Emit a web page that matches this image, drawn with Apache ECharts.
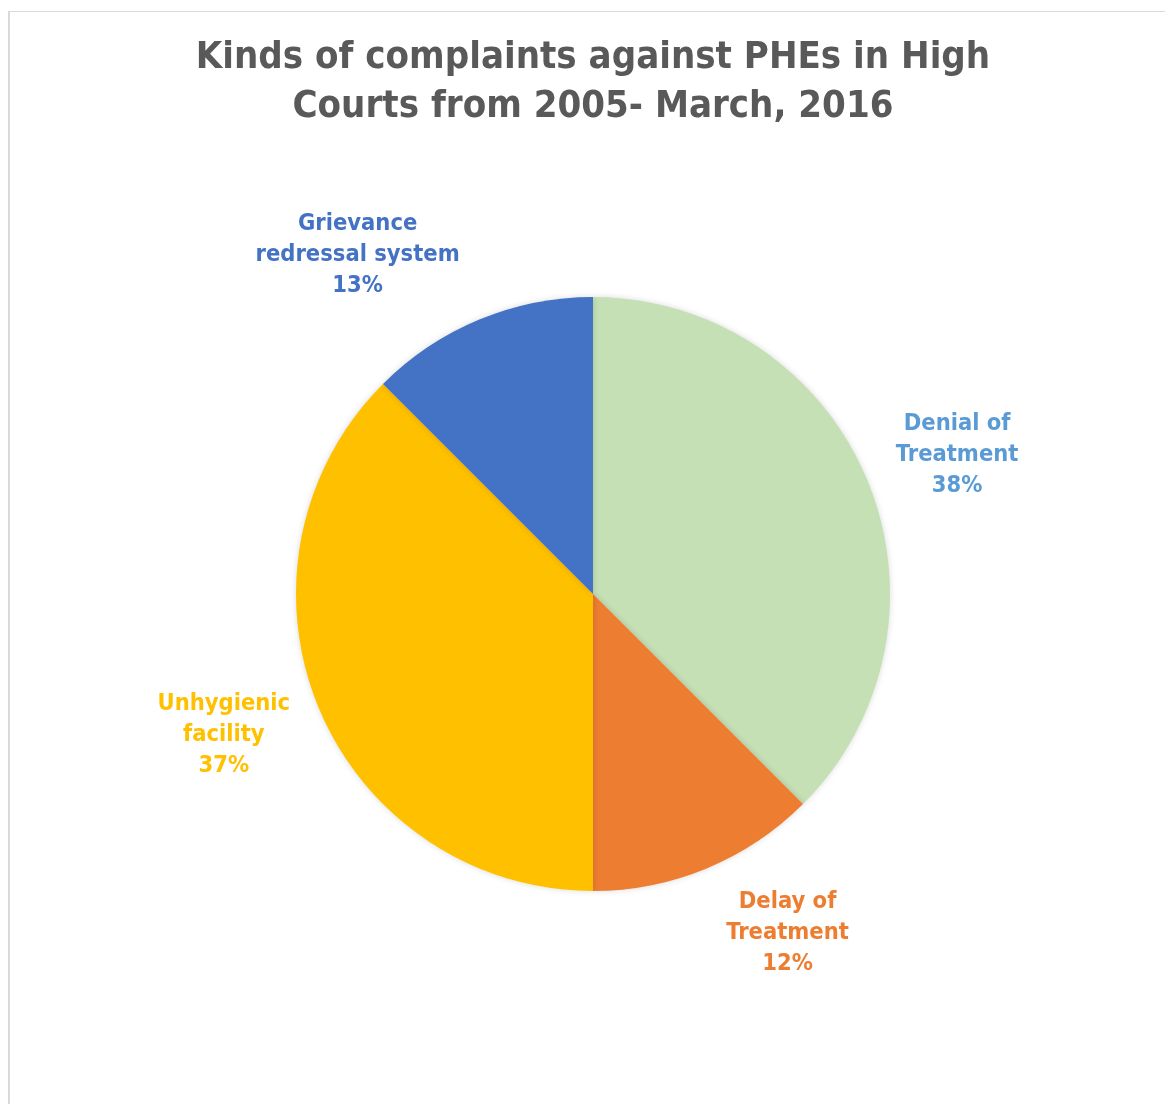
<!DOCTYPE html>
<html>
<head>
<meta charset="utf-8">
<script src="https://cdn.jsdelivr.net/npm/echarts@6/dist/echarts.min.js"></script>
<style>
  html, body { margin: 0; padding: 0; background: #fff; overflow: hidden; }
  #frame {
    position: absolute; left: 8px; top: 11px; width: 1168px; height: 1100px;
    border-top: 1px solid #d9d9d9; border-left: 2px solid #d9d9d9;
    box-sizing: border-box;
  }
  #chart { width: 100%; height: 100%; }
</style>
</head>
<body>
<div id="frame"><div id="chart"></div></div>
<script>
  // slice data (angles are 135/45/135/45 degrees)
  const categories = ['Denial of\nTreatment', 'Delay of\nTreatment', 'Unhygienic\nfacility', 'Grievance\nredressal system'];
  const values = [37.5, 12.5, 37.5, 12.5];
  const pctLabels = [38, 12, 37, 13]; // percentages as printed on the chart
  const sliceColors = ['#C5E0B4', '#ED7D31', '#FFC000', '#4472C4'];
  const labelColors = ['#5B9BD5', '#ED7D31', '#FFC000', '#4472C4'];

  const FONT = '"DejaVu Sans Condensed", "DejaVu Sans", sans-serif';
  const radius = 297;
  const centerY = 582;

  const chartDom = document.getElementById('chart');
  const myChart = echarts.init(chartDom);
  const W = chartDom.clientWidth;
  const cx = W / 2;

  // mid angle (clockwise from 12 o'clock) of each slice
  const total = values.reduce((a, b) => a + b, 0);
  let acc = 0;
  const midAngles = values.map(v => {
    const m = (acc + v / 2) / total * 2 * Math.PI;
    acc += v;
    return m;
  });

  const gap = 20;

  // put labels just outside the pie, roughly like Excel's "best fit"
  function placeLabel(params) {
    const a = midAngles[params.dataIndex];
    const dx = Math.sin(a), dy = -Math.cos(a);
    const w = params.labelRect.width, h = params.labelRect.height;
    let x, y;
    if (Math.abs(dx) >= Math.abs(dy)) {
      // box centred on the ray, nudged outward horizontally
      const t = Math.min(w / 2 / Math.abs(dx), h / 2 / Math.abs(dy));
      const d = radius + gap + t;
      x = cx + dx * d + Math.sign(dx) * 10;
      y = centerY + dy * d - Math.sign(dy) * 8;
    } else {
      // nearest corner of the box sits near the ray
      const d = radius + gap;
      x = cx + dx * d + Math.sign(dx) * (w / 2 + 12);
      y = centerY + dy * d + Math.sign(dy) * h / 2;
    }
    return { x: x, y: y, align: 'center', verticalAlign: 'middle' };
  }

  const option = {
    animation: false,
    title: {
      text: 'Kinds of complaints against PHEs in High\nCourts from 2005- March, 2016',
      left: 'center',
      top: 22,
      padding: 0,
      textStyle: {
        fontFamily: FONT,
        fontSize: 38,
        fontWeight: 'bold',
        color: '#595959',
        lineHeight: 49
      }
    },
    series: [
      {
        type: 'pie',
        center: [cx, centerY],
        radius: radius,
        startAngle: 90,
        clockwise: true,
        data: values.map((v, i) => ({
          name: categories[i],
          value: v,
          itemStyle: { color: sliceColors[i] },
          label: {
            color: labelColors[i],
            formatter: categories[i] + '\n' + pctLabels[i] + '%'
          }
        })),
        itemStyle: {
          borderWidth: 0,
          shadowBlur: 6,
          shadowColor: 'rgba(0,0,0,0.15)'
        },
        label: {
          show: true,
          position: 'outside',
          fontFamily: FONT,
          fontSize: 23.5,
          fontWeight: 'bold',
          lineHeight: 31,
          align: 'center'
        },
        labelLine: { show: false },
        labelLayout: placeLabel
      }
    ]
  };

  myChart.setOption(option);
</script>
</body>
</html>
